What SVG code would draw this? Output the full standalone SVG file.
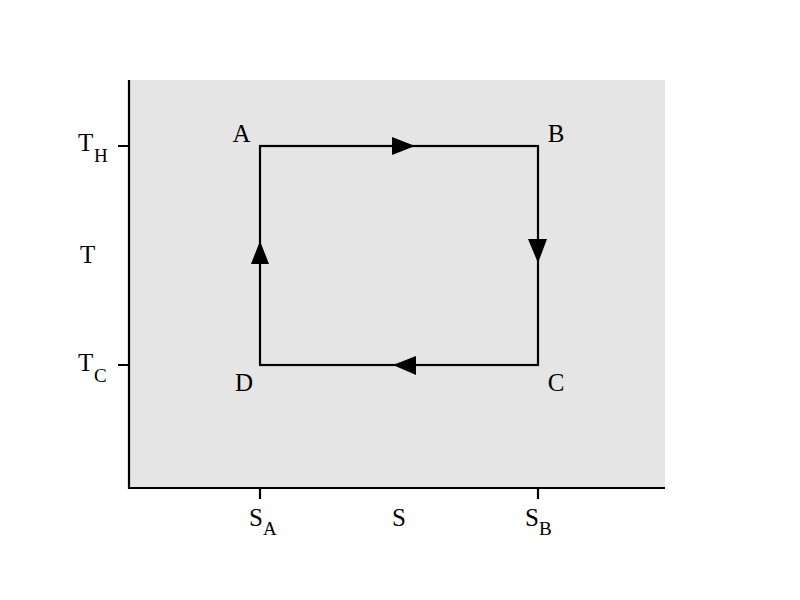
<svg xmlns="http://www.w3.org/2000/svg" width="800" height="600" viewBox="0 0 800 600">
<style>
.ax{stroke:#000;stroke-width:2.2;fill:none}
.cyc{stroke:#000;stroke-width:2.2;fill:none}
.t{font-family:"Liberation Serif","Times New Roman",serif;font-size:25px;fill:#000}
.s{font-family:"Liberation Serif","Times New Roman",serif;font-size:19px;fill:#000}
.arr{fill:#000}
</style>
<rect width="800" height="600" fill="#fff"/>
<rect id="plot-bg" x="129" y="80" width="536" height="408" fill="#e5e5e5"/>
<g id="axes">
<path class="ax" d="M129,80 V488 H665"/>
<path class="ax" d="M118,146 H129 M118,365 H129 M260,488 V499 M538,488 V499"/>
</g>
<g id="cycle">
<rect class="cyc" x="260" y="146" width="278" height="219" fill="#fff"/>
</g>
<g id="connectors">
<polygon class="arr" points="392,137 415,146 392,155"/>
<polygon class="arr" points="528,239 547,239 538,263"/>
<polygon class="arr" points="416,356 416,375 393,365"/>
<polygon class="arr" points="251,264 269,264 260,241"/>
</g>
<g id="node-A"><text class="t" x="241.5" y="142" text-anchor="middle">A</text></g>
<g id="node-B"><text class="t" x="556" y="142" text-anchor="middle">B</text></g>
<g id="node-C"><text class="t" x="556" y="391" text-anchor="middle">C</text></g>
<g id="node-D"><text class="t" x="244" y="391" text-anchor="middle">D</text></g>
<g id="labels">
<text class="t" x="78" y="151">T</text><text class="s" x="94" y="162">H</text>
<text class="t" x="80" y="263">T</text>
<text class="t" x="78" y="371">T</text><text class="s" x="94" y="382">C</text>
<text class="t" x="249" y="526">S</text><text class="s" x="263" y="535">A</text>
<text class="t" x="392" y="526">S</text>
<text class="t" x="525" y="526">S</text><text class="s" x="539" y="535">B</text>
</g>
</svg>
